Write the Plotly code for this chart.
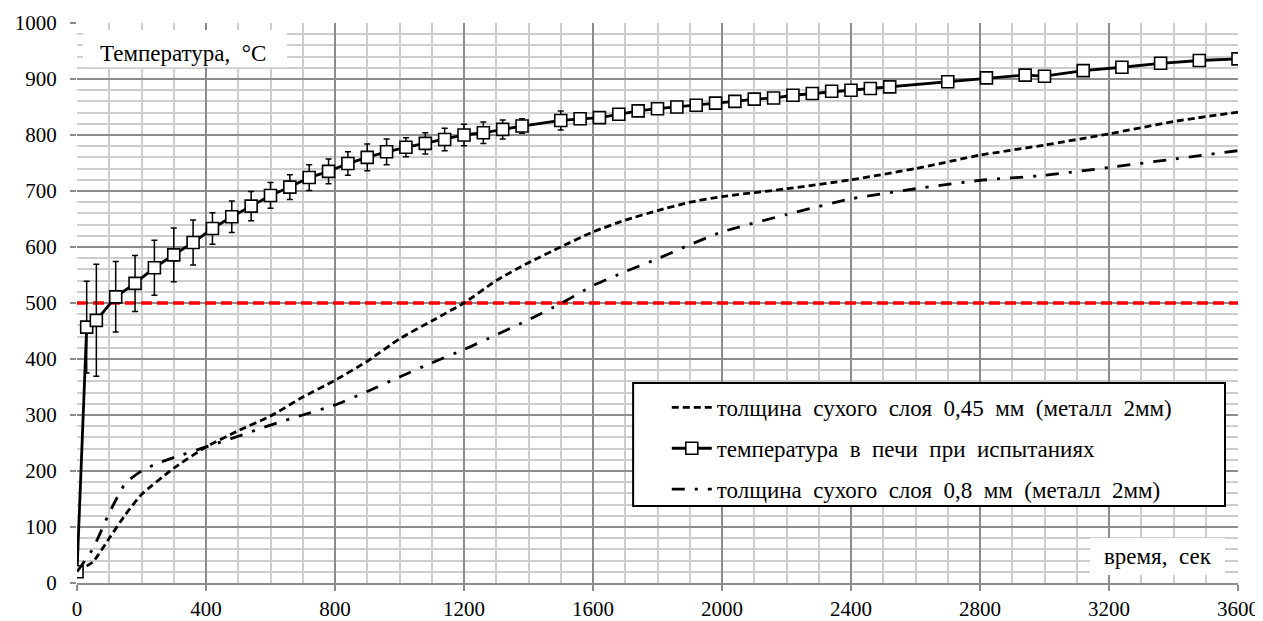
import plotly.graph_objects as go

# Furnace temperature during testing
time_f = [0, 30, 60, 120, 180, 240, 300, 360, 420, 480, 540, 600, 660, 720, 780, 840, 900, 960,
          1020, 1080, 1140, 1200, 1260, 1320, 1380, 1500, 1560, 1620, 1680, 1740, 1800, 1860,
          1920, 1980, 2040, 2100, 2160, 2220, 2280, 2340, 2400, 2460, 2520, 2700, 2820, 2940,
          3000, 3120, 3240, 3360, 3480, 3600]
temp_f = [20, 457, 469, 511, 535, 563, 586, 608, 633, 654, 673, 692, 707, 724, 735, 749, 760, 770,
          778, 785, 792, 800, 804, 810, 816, 826, 829, 831, 837, 843, 847, 850,
          853, 857, 860, 864, 866, 871, 874, 878, 880, 883, 886, 895, 902, 907,
          905, 915, 921, 928, 933, 936]
err_f = [0, 82, 100, 63, 50, 49, 48, 40, 28, 28, 26, 23, 22, 23, 22, 21, 24, 23,
         17, 19, 20, 19, 19, 17, 13, 17, 4, 0, 0, 0, 0, 0,
         0, 0, 0, 0, 0, 0, 0, 0, 0, 0, 0, 0, 0, 0,
         0, 0, 0, 0, 0, 0]

# Dry layer 0.45 mm (metal 2 mm)
time_a = [0, 50, 100, 150, 200, 300, 400, 500, 600, 700, 800, 900, 1000, 1100, 1200, 1300, 1400,
          1500, 1600, 1700, 1800, 1900, 2000, 2200, 2400, 2600, 2800, 3000, 3200, 3400, 3600]
temp_a = [20, 38, 80, 122, 158, 205, 243, 272, 298, 332, 362, 396, 436, 468, 500, 540, 572,
          600, 627, 648, 665, 680, 690, 704, 720, 740, 764, 782, 802, 824, 841]

# Dry layer 0.8 mm (metal 2 mm)
time_b = [0, 50, 100, 150, 200, 250, 300, 400, 500, 600, 700, 800, 900, 1000, 1100, 1200, 1300,
          1400, 1500, 1600, 1700, 1800, 1900, 2000, 2200, 2400, 2600, 2800, 3000, 3200, 3400, 3600]
temp_b = [20, 62, 125, 178, 200, 214, 224, 243, 262, 282, 300, 318, 342, 368, 393, 417, 443,
          470, 499, 531, 556, 579, 604, 627, 658, 686, 704, 719, 728, 742, 757, 772]

critical_temp = 500
x_range = [0, 3600]
y_range = [0, 1000]

S = " \u00a0"
name_a = S.join(["толщина", "сухого", "слоя", "0,45", "мм", "(металл", "2мм)"])
name_f = S.join(["температура", "в", "печи", "при", "испытаниях"])
name_b = S.join(["толщина", "сухого", "слоя", "0,8", "мм", "(металл", "2мм)"])
y_title = "Температура," + S + "°С"
x_title = "время," + S + "сек"

FONT = "Liberation Serif, DejaVu Serif, serif"

fig = go.Figure()

fig.add_trace(go.Scatter(
    x=x_range, y=[critical_temp, critical_temp], mode="lines",
    line=dict(color="#ff0000", width=3.5, dash="11px,5px"),
    showlegend=False, hoverinfo="skip"))

fig.add_trace(go.Scatter(
    x=time_a, y=temp_a, mode="lines", name=name_a, legendgroup="a",
    line=dict(color="black", width=2.8, dash="7px,4px", shape="spline", smoothing=0.5)))

fig.add_trace(go.Scatter(
    x=time_f, y=temp_f, mode="lines+markers", name=name_f, legendgroup="f",
    line=dict(color="black", width=2.8),
    marker=dict(symbol="square", size=12, color="white", line=dict(color="black", width=1.6)),
    error_y=dict(type="data", array=err_f, visible=True, color="black", thickness=1.5, width=3)))

fig.add_trace(go.Scatter(
    x=time_b, y=temp_b, mode="lines", name=name_b, legendgroup="b",
    line=dict(color="black", width=2.8, dash="13px,10px,3px,10px", shape="spline", smoothing=0.5)))

shapes = [
    dict(type="rect", xref="paper", yref="paper", x0=0.0052, x1=0.1809, y0=0.921, y1=0.9875,
         fillcolor="white", line=dict(width=0), layer="above"),
    dict(type="rect", xref="paper", yref="paper", x0=0.8725, x1=0.9888, y0=0.0143, y1=0.0804,
         fillcolor="white", line=dict(width=0), layer="above"),
    dict(type="rect", xref="paper", yref="paper", x0=0.479, x1=0.9888, y0=0.1375, y1=0.357,
         fillcolor="white", line=dict(color="black", width=2), layer="above"),
]

annotations = [
    dict(text=y_title, xref="paper", yref="paper", x=0.0917, y=0.9455,
         showarrow=False, font=dict(family=FONT, size=23, color="black"),
         xanchor="center", yanchor="middle"),
    dict(text=x_title, xref="paper", yref="paper", x=0.931, y=0.048,
         showarrow=False, font=dict(family=FONT, size=23, color="black"),
         xanchor="center", yanchor="middle"),
]

# page body has an 8px margin: figure sized to fit the remaining viewport
fig.update_layout(
    width=1255, height=613,
    margin=dict(l=69, r=25, t=15, b=38, autoexpand=False),
    paper_bgcolor="white", plot_bgcolor="white",
    font=dict(family=FONT, size=21, color="black"),
    shapes=shapes, annotations=annotations,
    showlegend=True,
    legend=dict(x=0.508, y=0.352, xanchor="left", yanchor="top",
                bgcolor="rgba(0,0,0,0)", borderwidth=0,
                font=dict(family=FONT, size=23, color="black"),
                traceorder="grouped", tracegroupgap=8, itemwidth=40),
    xaxis=dict(range=x_range, tickmode="linear", tick0=0, dtick=400, automargin=False,
               showgrid=True, gridcolor="#8c8c8c", gridwidth=1.5,
               minor=dict(dtick=100, showgrid=True, gridcolor="#cdcdcd", gridwidth=1.5,
                          ticks=""),
               ticks="outside", ticklen=6, tickcolor="#8c8c8c", tickwidth=1.5,
               showline=True, linecolor="#8c8c8c", linewidth=1.5, mirror=False,
               zeroline=False, tickfont=dict(family=FONT, size=21, color="black")),
    yaxis=dict(range=y_range, tickmode="linear", tick0=0, dtick=100, automargin=False,
               showgrid=True, gridcolor="#8c8c8c", gridwidth=1.5,
               minor=dict(dtick=20, showgrid=True, gridcolor="#cdcdcd", gridwidth=1.5,
                          ticks=""),
               ticks="outside", ticklen=6, tickcolor="#8c8c8c", tickwidth=1.5,
               showline=False, zeroline=False, ticklabelstandoff=9,
               tickfont=dict(family=FONT, size=21, color="black")),
)

fig.write_html("out.html")
